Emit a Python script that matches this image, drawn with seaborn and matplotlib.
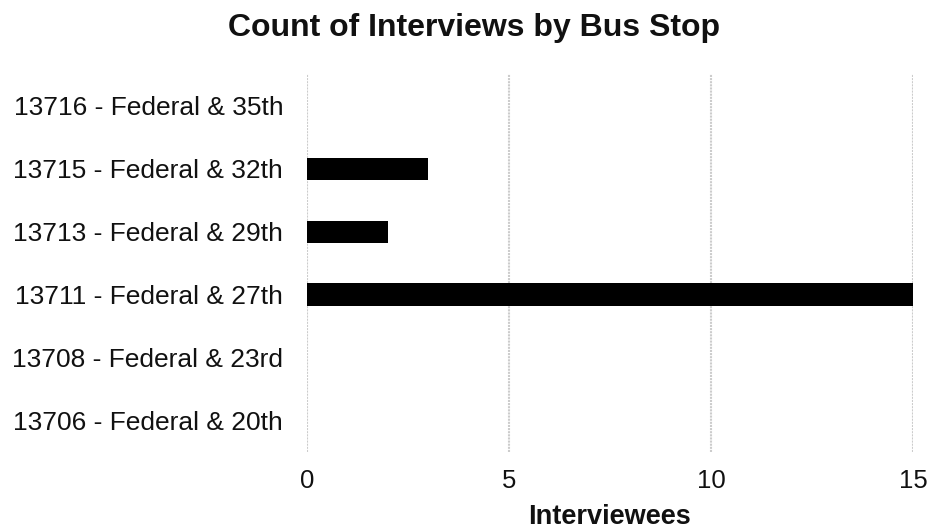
import matplotlib
matplotlib.use("Agg")
import matplotlib.pyplot as plt
import seaborn as sns
import pandas as pd

stops = ["13716 - Federal & 35th", "13715 - Federal & 32th", "13713 - Federal & 29th",
         "13711 - Federal & 27th", "13708 - Federal & 23rd", "13706 - Federal & 20th"]
counts = [0, 3, 2, 15, 0, 0]
xticks = [0, 5, 10, 15]

sns.set_theme(style="white")
plt.rcParams['font.family'] = ['Liberation Sans', 'DejaVu Sans']

df = pd.DataFrame({"stop": stops, "count": counts})

fig = plt.figure(figsize=(9.27, 5.29), dpi=100)
ax = fig.add_axes([0.331, 0.1456, 0.654, 0.7144])
sns.barplot(data=df, y="stop", x="count", color="black", orient="h", width=0.35,
            saturation=1, ax=ax, zorder=3, linewidth=0)
ax.set_xlim(0, 15)
ax.set_ylim(5.5, -0.5)
ax.set_xticks(xticks)
ax.set_xticklabels([str(t) for t in xticks], fontsize=18.5, color="#111111")
ax.tick_params(axis="y", labelsize=19, colors="#111111", length=0, pad=17)
ax.tick_params(axis="x", length=0, pad=12)
ax.grid(axis="x", color="#cccccc", linewidth=1.5, linestyle=(0, (1, 0.5)), zorder=0)
for s in ax.spines.values():
    s.set_visible(False)
ax.set_ylabel("")
ax.set_xlabel("Interviewees", fontsize=19.5, fontweight="bold", color="#111111", labelpad=8)
fig.suptitle("Count of Interviews by Bus Stop", fontsize=23, fontweight="bold",
             color="#111111", x=0.511, y=0.976)
fig.savefig("out.png", dpi=100)
